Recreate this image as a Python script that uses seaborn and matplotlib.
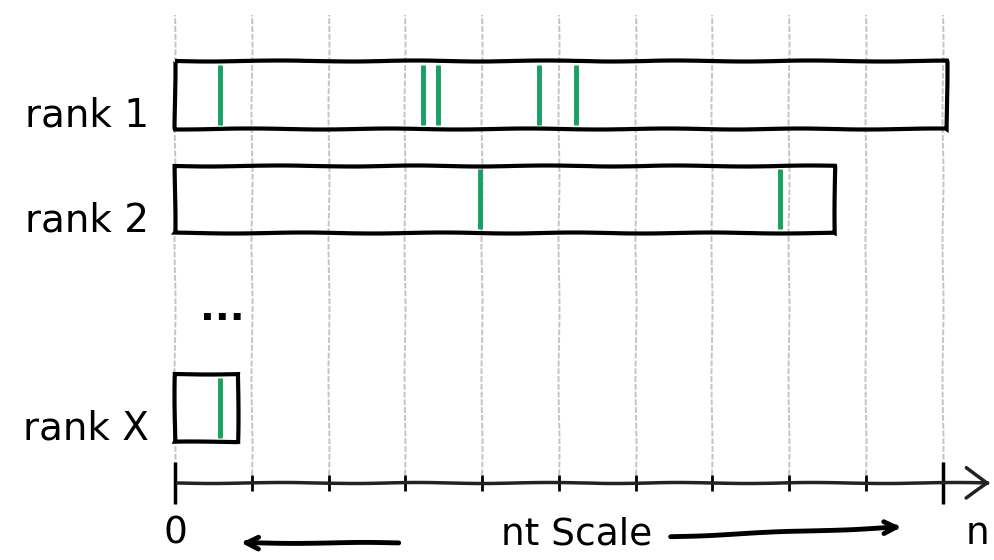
import numpy as np
import matplotlib
matplotlib.use("Agg")
import matplotlib.pyplot as plt
import matplotlib.transforms as mtransforms
import pandas as pd
import seaborn as sns

# rows of the sketch, top to bottom ("..." is just a gap row)
row_order = ["rank 1", "rank 2", "...", "rank X"]
ranks = ["rank 1", "rank 2", "rank X"]
rank_lengths = [10.05, 8.6, 0.82]  # in tenths of n

# green marks along each rank
mark_ranks = ["rank 1"] * 5 + ["rank 2"] * 2 + ["rank X"]
mark_pos = [0.59, 3.23, 3.42, 4.74, 5.22, 3.97, 7.88, 0.59]

major_ticks = [0, 10]
minor_ticks = [1, 2, 3, 4, 5, 6, 7, 8, 9]

green = "#17a062"

sns.set_style("white")
plt.xkcd(scale=0.5, length=150, randomness=2)
plt.rcParams["font.family"] = ["DejaVu Sans"]
plt.rcParams["path.effects"] = []
plt.rcParams["text.color"] = "black"
plt.rcParams["ytick.color"] = "black"
plt.rcParams["ytick.labelcolor"] = "black"

fig = plt.figure(figsize=(9.95, 5.6), dpi=100)
ax = fig.add_axes([160 / 995, 77 / 560, 835 / 995, 468 / 560])

bars = pd.DataFrame({"rank": ranks, "length": rank_lengths})
sns.barplot(data=bars, x="length", y="rank", order=row_order, orient="h",
            fill=False, color="black", linewidth=3, width=0.65,
            errorbar=None, ax=ax)

marks = pd.DataFrame({"pos": mark_pos,
                      "row": [row_order.index(r) for r in mark_ranks]})
sns.scatterplot(data=marks, x="pos", y="row", marker="|", s=1900,
                color=green, linewidth=3.5, ax=ax, zorder=4)

ax.set_xlim(-0.195, 10.68)
ax.set_ylim(3.72, -0.77)
ax.set_xlabel("")
ax.set_ylabel("")

# pencil grid + ticks
ax.set_xticks(major_ticks)
ax.set_xticks(minor_ticks, minor=True)
ax.set_xticklabels([])
ax.grid(axis="x", which="both", color="#c4c4c4", lw=1.4, ls=(0, (3, 1)))
ax.set_axisbelow(True)
ax.tick_params(axis="x", which="major", bottom=True, direction="inout",
               length=30, width=2.5, color="black")
ax.tick_params(axis="x", which="minor", bottom=True, direction="inout",
               length=12, width=2, color="black")

ax.set_yticks(range(len(row_order)))
ax.set_yticklabels([r if r != "..." else "" for r in row_order], fontsize=28,
                   color="black")
ax.tick_params(axis="y", left=False, length=0, pad=8)
shift = mtransforms.ScaledTranslation(0, -12 / 72, fig.dpi_scale_trans)
for lab in ax.get_yticklabels():
    lab.set_transform(lab.get_transform() + shift)

for side in ["left", "right", "top", "bottom"]:
    ax.spines[side].set_visible(False)

ax.text(0.62, 2.05, row_order[2], fontsize=28, fontweight="bold",
        ha="center", va="center")

# axis line with arrow head
trans = ax.get_xaxis_transform()
ax.annotate("", xy=(10.66, 0), xytext=(0, 0), xycoords=trans, textcoords=trans,
            arrowprops=dict(arrowstyle="->,head_length=0.7,head_width=0.5",
                            lw=2.5, color="#222222", mutation_scale=22),
            annotation_clip=False)

ax.text(0, -0.108, "0", transform=trans, fontsize=27, ha="center", va="center")
ax.text(10.45, -0.108, "n", transform=trans, fontsize=27, ha="center", va="center")
ax.text(5.23, -0.11, "nt Scale", transform=trans, fontsize=27, ha="center", va="center")
ax.annotate("", xy=(0.82, -0.128), xytext=(2.95, -0.128), xycoords=trans,
            textcoords=trans, annotation_clip=False,
            arrowprops=dict(arrowstyle="->", lw=3.5, color="black", mutation_scale=22))
ax.annotate("", xy=(9.5, -0.094), xytext=(6.42, -0.115), xycoords=trans,
            textcoords=trans, annotation_clip=False,
            arrowprops=dict(arrowstyle="->", lw=3.5, color="black", mutation_scale=22))

fig.savefig("out.png", dpi=100)
